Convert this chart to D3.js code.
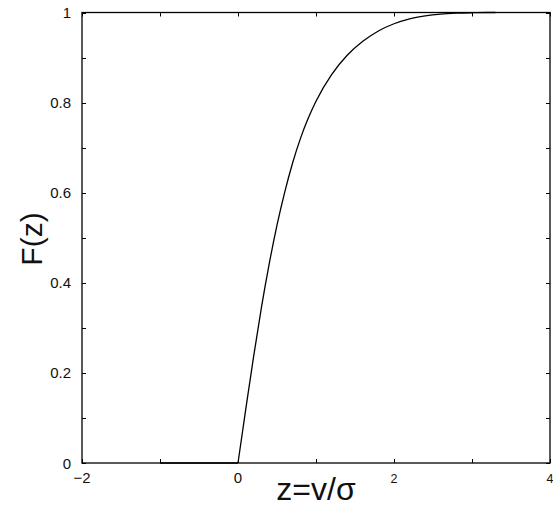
<!DOCTYPE html>
<html><head><meta charset="utf-8">
<script src="https://cdn.jsdelivr.net/npm/d3@7"></script>
<style>body{margin:0;background:#fff;} svg{display:block;}</style>
</head><body>
<svg id="c" width="553" height="507"></svg>
<script>
const zValues = [-1, 0, 0.1, 0.2, 0.3, 0.4, 0.5, 0.6, 0.7, 0.8, 0.9, 1.0, 1.2, 1.4, 1.6, 1.8, 2.0, 2.2, 2.4, 2.6, 2.8, 3.0, 3.2, 3.3];
const fValues = [0, 0, 0.12, 0.236, 0.345, 0.442, 0.528, 0.602, 0.666, 0.72, 0.765, 0.803, 0.862, 0.905, 0.936, 0.959, 0.975, 0.986, 0.9925, 0.9965, 0.9985, 0.9995, 1.0, 1.0];
const xTicks = [-2, 0, 2, 4];
const xTickLabels = ["\u22122", "0", "2", "4"];
const xTickSizes = [15, 15, 12.5, 12.5];
const xMinorTicks = [-1, 1, 3];
const yTicks = [0, 0.2, 0.4, 0.6, 0.8, 1];
const yTickLabels = ["0", "0.2", "0.4", "0.6", "0.8", "1"];
const yMinorTicks = [0.1, 0.3, 0.5, 0.7, 0.9];

const L = 82, R = 550, T = 12.5, B = 463;
const x = d3.scaleLinear().domain([-2, 4]).range([L, R]);
const y = d3.scaleLinear().domain([0, 1]).range([B, T]);
const svg = d3.select("#c");
const font = "Liberation Sans, Arial, Helvetica, sans-serif";

// ticks (inward, on all four sides)
const g = svg.append("g").attr("stroke", "#000").attr("stroke-width", 1);
const tl = 4;
[...xTicks, ...xMinorTicks].forEach(v => {
  const xv = Math.round(x(v)) + 0.5;
  g.append("line").attr("x1", xv).attr("x2", xv).attr("y1", B).attr("y2", B - tl);
  g.append("line").attr("x1", xv).attr("x2", xv).attr("y1", T).attr("y2", T + tl);
});
[...yTicks, ...yMinorTicks].forEach(v => {
  const yv = Math.round(y(v)) + 0.5;
  g.append("line").attr("x1", L).attr("x2", L + tl).attr("y1", yv).attr("y2", yv);
  g.append("line").attr("x1", R).attr("x2", R - tl).attr("y1", yv).attr("y2", yv);
});

// frame
svg.append("rect").attr("x", L).attr("y", T).attr("width", R - L).attr("height", B - T)
  .attr("fill", "none").attr("stroke", "#000").attr("stroke-width", 1.3);

// curve: flat part (z<=0) straight, rising part smooth
const pts = zValues.map((z, i) => [z, fValues[i]]);
const flat = pts.filter(d => d[0] <= 0);
const rise = pts.filter(d => d[0] >= 0);
svg.append("path").datum(flat)
  .attr("d", d3.line().x(d => x(d[0])).y(d => y(d[1])))
  .attr("fill", "none").attr("stroke", "#000").attr("stroke-width", 1.3);
svg.append("path").datum(rise)
  .attr("d", d3.line().x(d => x(d[0])).y(d => y(d[1])).curve(d3.curveMonotoneX))
  .attr("fill", "none").attr("stroke", "#000").attr("stroke-width", 1.3);

// tick labels
xTicks.forEach((v, i) => {
  svg.append("text").attr("x", x(v)).attr("y", 483).attr("text-anchor", "middle")
    .attr("font-family", font).attr("font-size", xTickSizes[i]).attr("fill", "#111").text(xTickLabels[i]);
});
yTicks.forEach((v, i) => {
  svg.append("text").attr("x", 71).attr("y", y(v) + 5.5).attr("text-anchor", "end")
    .attr("font-family", font).attr("font-size", 15).attr("fill", "#111").text(yTickLabels[i]);
});

// axis titles
svg.append("text").attr("x", 316).attr("y", 500).attr("text-anchor", "middle")
  .attr("font-family", font).attr("font-size", 32).attr("fill", "#111").text("z=v/\u03C3");
svg.append("text").attr("transform", "translate(42,239) rotate(-90)").attr("text-anchor", "middle")
  .attr("font-family", font).attr("font-size", 30).attr("fill", "#111").text("F(z)");
</script>
</body></html>
